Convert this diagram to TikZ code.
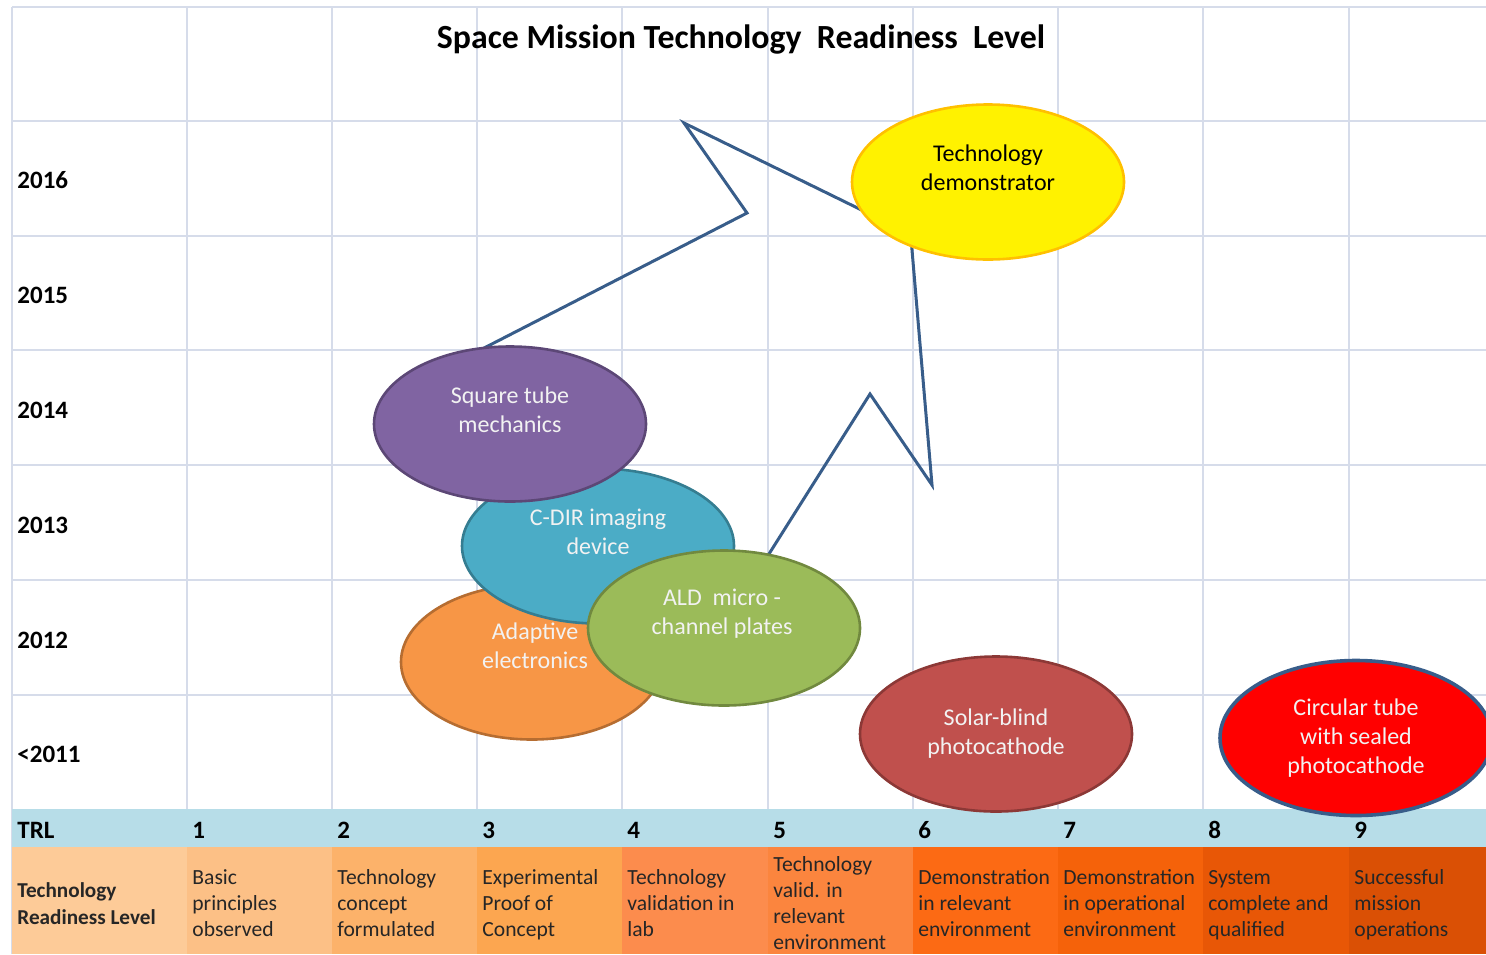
\documentclass[tikz,border=0pt]{standalone}
\usepackage{fontspec}
\setmainfont{Carlito}
\usetikzlibrary{shapes.geometric}
\definecolor{gridgray}{RGB}{214,220,234}
\definecolor{trlblue}{RGB}{183,221,232}
\definecolor{boltblue}{RGB}{56,93,138}
\definecolor{lvlzero}{RGB}{253,203,152}
\definecolor{lvlone}{RGB}{252,192,134}
\definecolor{lvltwo}{RGB}{252,178,106}
\definecolor{lvlthree}{RGB}{252,166,80}
\definecolor{lvlfour}{RGB}{252,140,77}
\definecolor{lvlfive}{RGB}{251,133,62}
\definecolor{lvlsix}{RGB}{252,106,20}
\definecolor{lvlseven}{RGB}{245,98,10}
\definecolor{lvleight}{RGB}{232,87,6}
\definecolor{lvlnine}{RGB}{218,80,5}
\tikzset{
  gridline/.style={draw=gridgray, line width=0.8pt},
  boltline/.style={draw=boltblue, line width=1.5pt},
  bubble/.style={ellipse, line width=1.3pt, minimum width=136pt, minimum height=77.5pt, inner sep=0pt},
  bubbletext/.style={align=center, text=white!95!black, font=\fontsize{12}{14.5}\selectfont},
  yearlabel/.style={anchor=west, inner xsep=0pt, font=\fontsize{12.5}{15}\selectfont\bfseries},
  desclabel/.style={anchor=west, align=left, inner xsep=0pt, text=black!85,
    font=\fontsize{10.8}{13}\selectfont, execute at begin node=\strut, execute at end node=\strut}
}
\begin{document}
\begin{tikzpicture}[x=0.5pt, y=-0.5pt]
  \useasboundingbox (0,0) rectangle (1486,954);
  \clip (0,0) rectangle (1486,954);

  % sheet grid
  \draw[gridline] (12,7) -- (1486,7) (12,121) -- (1486,121) (12,236) -- (1486,236)
    (12,350) -- (1486,350) (12,465) -- (1486,465) (12,580) -- (1486,580) (12,695) -- (1486,695);
  \draw[gridline] (12,7) -- (12,954) (187,7) -- (187,810) (332,7) -- (332,810) (477,7) -- (477,810)
    (622,7) -- (622,810) (768,7) -- (768,810) (913,7) -- (913,810) (1058,7) -- (1058,810)
    (1203,7) -- (1203,810) (1349,7) -- (1349,810);

  % TRL band and level cells
  \fill[trlblue] (12,809) rectangle (1486,847);
  \fill[lvlzero] (12,847) rectangle (187,954);
  \fill[lvlone] (187,847) rectangle (332,954);
  \fill[lvltwo] (332,847) rectangle (477,954);
  \fill[lvlthree] (477,847) rectangle (622,954);
  \fill[lvlfour] (622,847) rectangle (768,954);
  \fill[lvlfive] (768,847) rectangle (913,954);
  \fill[lvlsix] (913,847) rectangle (1058,954);
  \fill[lvlseven] (1058,847) rectangle (1203,954);
  \fill[lvleight] (1203,847) rectangle (1349,954);
  \fill[lvlnine] (1349,847) rectangle (1486,954);

  \node[font=\fontsize{16.9}{20}\selectfont\bfseries] (title) at (741,40) {Space Mission Technology\ \ Readiness\ \ Level};

  % years
  \node[yearlabel] (y2016) at (17,180) {2016};
  \node[yearlabel] (y2015) at (17,295) {2015};
  \node[yearlabel] (y2014) at (17,410) {2014};
  \node[yearlabel] (y2013) at (17,525) {2013};
  \node[yearlabel] (y2012) at (17,640) {2012};
  \node[yearlabel] (y2011) at (17,754) {<2011};

  % TRL numbers
  \node[yearlabel] (trl) at (17,830) {TRL};
  \node[yearlabel] (trl1) at (192,830) {1};
  \node[yearlabel] (trl2) at (337,830) {2};
  \node[yearlabel] (trl3) at (482,830) {3};
  \node[yearlabel] (trl4) at (627,830) {4};
  \node[yearlabel] (trl5) at (773,830) {5};
  \node[yearlabel] (trl6) at (918,830) {6};
  \node[yearlabel] (trl7) at (1063,830) {7};
  \node[yearlabel] (trl8) at (1208,830) {8};
  \node[yearlabel] (trl9) at (1354,830) {9};

  % level descriptions
  \node[desclabel, font=\fontsize{10.6}{13.5}\selectfont\bfseries] (desc0) at (17,908) {Technology\\Readiness Level};
  \node[desclabel] (desc1) at (192,907) {Basic\\principles\\observed};
  \node[desclabel] (desc2) at (337,907) {Technology\\concept\\formulated};
  \node[desclabel] (desc3) at (482,907) {Experimental\\Proof of\\Concept};
  \node[desclabel] (desc4) at (627,907) {Technology\\validation in\\lab};
  \node[desclabel] (desc5) at (773,907) {Technology\\valid. in\\relevant\\environment};
  \node[desclabel] (desc6) at (918,907) {Demonstration\\in relevant\\environment};
  \node[desclabel] (desc7) at (1063,907) {Demonstration\\in operational\\environment};
  \node[desclabel] (desc8) at (1208,907) {System\\complete and\\qualified};
  \node[desclabel] (desc9) at (1354,907) {Successful\\mission\\operations};

  % zigzag arrow, its ends run under the bubbles
  \draw[boltline] (451,365) -- (747,213) -- (684,123) -- (880,219) -- (908,203)
    -- (932,485) -- (870,394) -- (750,584) -- cycle;

  % technology bubbles
  \node[bubble, fill=yellow, draw={rgb,255:red,255;green,192;blue,0}] (demo) at (988,182) {};
  \node[bubbletext, text=black] (demotext) at ([yshift=7pt]demo.center) {Technology\\demonstrator};
  \node[bubble, minimum width=131pt, fill={rgb,255:red,247;green,150;blue,70}, draw={rgb,255:red,182;green,109;blue,49}] (adapt) at (532,662) {};
  \node[bubbletext] (adapttext) at ([xshift=1.5pt, yshift=8pt]adapt.center) {Adaptive\\electronics};
  \node[bubble, fill={rgb,255:red,75;green,172;blue,198}, draw={rgb,255:red,53;green,125;blue,145}] (cdir) at (598,546) {};
  \node[bubbletext] (cdirtext) at ([yshift=7pt]cdir.center) {C-DIR imaging\\device};
  \node[bubble, fill={rgb,255:red,128;green,100;blue,162}, draw={rgb,255:red,92;green,71;blue,118}] (square) at (510,424) {};
  \node[bubbletext] (squaretext) at ([yshift=7pt]square.center) {Square tube\\mechanics};
  \node[bubble, fill={rgb,255:red,155;green,187;blue,89}, draw={rgb,255:red,113;green,137;blue,63}] (ald) at (724,628) {};
  \node[bubbletext] (aldtext) at ([xshift=-1pt, yshift=7pt]ald.center) {ALD\ \ micro -\\channel plates};
  \node[bubble, fill={rgb,255:red,192;green,80;blue,77}, draw={rgb,255:red,140;green,56;blue,54}] (solar) at (996,734) {};
  \node[bubbletext] (solartext) at (solar.center) {Solar-blind\\photocathode};
  \node[bubble, line width=1.8pt, fill=red, draw=boltblue] (circ) at (1356,738) {};
  \node[bubbletext] (circtext) at (circ.center) {Circular tube\\with sealed\\photocathode};
\end{tikzpicture}
\end{document}
